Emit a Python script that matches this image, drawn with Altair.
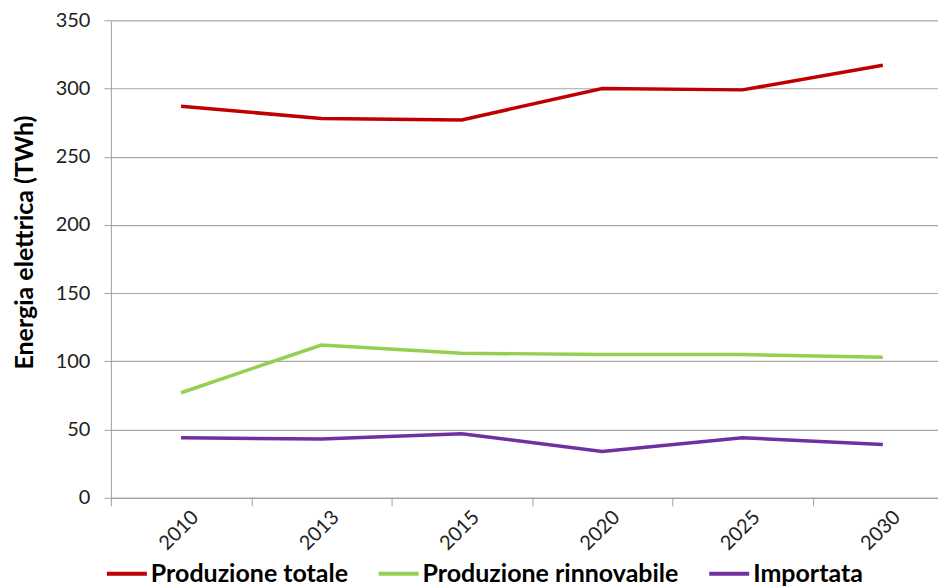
import altair as alt
import pandas as pd

years = ["2010", "2013", "2015", "2020", "2025", "2030"]
series_names = ["Produzione totale", "Produzione rinnovabile", "Importata"]
totale = [287, 278, 277, 300, 299, 317]
rinnovabile = [77, 112, 106, 105, 105, 103]
importata = [44, 43, 47, 34, 44, 39]
colors = ["#C00000", "#92D050", "#7030A0"]

rows = []
for name, vals in zip(series_names, [totale, rinnovabile, importata]):
    for y, v in zip(years, vals):
        rows.append({"Anno": y, "Serie": name, "Valore": v})
df = pd.DataFrame(rows)

FONT = "Lato"

chart = alt.Chart(df).mark_line(strokeWidth=3.5).encode(
    x=alt.X("Anno:N", sort=years, title=None,
            scale=alt.Scale(paddingInner=0, paddingOuter=0),
            axis=alt.Axis(labelAngle=-45, labelAlign="right", labelBaseline="middle",
                          labelOffset=14, labelPadding=8, tickBand="extent",
                          tickSize=8, tickColor="#a0a0a0", domainColor="#a0a0a0",
                          labelFont=FONT, labelFontSize=20, labelColor="#222222",
                          grid=False)),
    y=alt.Y("Valore:Q", title="Energia elettrica (TWh)",
            scale=alt.Scale(domain=[0, 350], nice=False),
            axis=alt.Axis(values=[0, 50, 100, 150, 200, 250, 300, 350],
                          tickSize=7, tickColor="#a0a0a0", domainColor="#a0a0a0",
                          gridColor="#a6a6a6", gridWidth=1.2,
                          labelFont=FONT, labelFontSize=20, labelColor="#222222",
                          labelPadding=14,
                          titleFont=FONT, titleFontSize=25, titleFontWeight="bold",
                          titleColor="#000000", titlePadding=18, titleY=222)),
    color=alt.Color("Serie:N", sort=series_names,
                    scale=alt.Scale(domain=series_names, range=colors),
                    legend=alt.Legend(title=None, orient="none", direction="horizontal",
                                      legendX=-6, legendY=532,
                                      symbolType="stroke", symbolSize=1600,
                                      symbolStrokeWidth=4, columnPadding=22,
                                      labelFont=FONT, labelFontSize=25,
                                      labelFontWeight="bold", labelColor="#000000",
                                      labelOffset=2, labelLimit=400)),
).properties(
    width=843, height=478,
    padding={"left": 4, "top": 2, "right": -16, "bottom": 0},
).configure_view(stroke=None)

chart.save("out.html", embed_options={"renderer": "svg", "actions": False})
